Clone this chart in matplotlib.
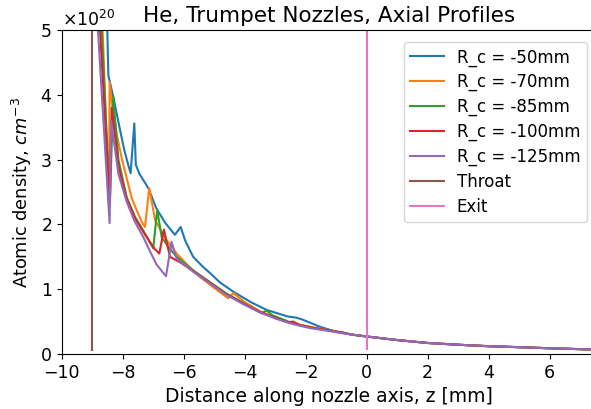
import numpy as np
import matplotlib
matplotlib.use('Agg')
import matplotlib.pyplot as plt
from matplotlib.ticker import ScalarFormatter

SCALE = 1e20

# shared tail where all profiles merge (z in mm, density in 1e20 cm^-3)
tail_z = [-0.5, 0.0, 1.0, 2.0, 3.0, 4.0, 5.0, 6.0, 7.5]
tail_n = [0.30, 0.27, 0.215, 0.17, 0.143, 0.12, 0.105, 0.088, 0.068]

z_50 = [-8.52, -8.47, -8.3, -8.14, -7.95, -7.82, -7.74, -7.62, -7.57, -7.45, -7.16, -6.9,
        -6.6, -6.29, -6.10, -5.95, -5.69, -5.4, -5.14, -4.8, -4.37, -3.8, -3.28, -2.6,
        -2.3, -2.1, -1.53, -0.98]
n_50 = [5.3, 4.3, 3.95, 3.58, 3.15, 2.92, 2.79, 3.56, 2.92, 2.78, 2.56, 2.25,
        2.02, 1.84, 1.96, 1.75, 1.50, 1.36, 1.25, 1.10, 0.96, 0.80, 0.68, 0.58,
        0.56, 0.53, 0.42, 0.34]

z_70 = [-8.68, -8.45, -8.43, -8.36, -8.2, -8.03, -7.85, -7.70, -7.38, -7.27, -7.13,
        -6.94, -6.6, -6.23, -5.85, -5.47, -5.0, -4.54, -4.37, -4.0, -3.5, -2.95, -2.41,
        -1.5, -0.98]
n_70 = [5.3, 2.3, 4.2, 3.9, 3.4, 3.02, 2.68, 2.40, 2.04, 1.96, 2.56,
        2.07, 1.78, 1.55, 1.36, 1.19, 1.02, 0.86, 0.94, 0.80, 0.66, 0.55, 0.47,
        0.39, 0.34]

z_85 = [-8.72, -8.42, -8.31, -8.14, -7.87, -7.6, -7.32, -7.0, -6.87, -6.72, -6.45,
        -6.23, -5.69, -5.14, -4.59, -4.05, -3.45, -3.28, -3.1, -2.41, -1.86, -1.31,
        -0.77]
n_85 = [5.3, 2.35, 3.97, 3.0, 2.42, 2.12, 1.9, 1.63, 2.22, 1.80, 1.62,
        1.50, 1.29, 1.11, 0.93, 0.79, 0.63, 0.67, 0.60, 0.47, 0.41, 0.37,
        0.33]

z_100 = [-8.78, -8.42, -8.36, -8.14, -7.87, -7.6, -7.32, -6.95, -6.8, -6.65, -6.45,
         -6.1, -5.69, -5.14, -4.59, -4.05, -3.5, -2.95, -2.6, -2.41, -2.2, -1.86,
         -1.31, -0.77]
n_100 = [5.3, 2.3, 3.8, 2.9, 2.40, 2.1, 1.88, 1.62, 1.55, 1.92, 1.50,
         1.41, 1.28, 1.10, 0.92, 0.78, 0.65, 0.55, 0.49, 0.50, 0.45, 0.41,
         0.37, 0.33]

z_125 = [-8.85, -8.43, -8.38, -8.14, -7.87, -7.6, -7.32, -7.1, -6.89, -6.58, -6.40,
         -6.23, -5.95, -5.69, -5.14, -4.59, -4.05, -3.5, -2.95, -2.41, -1.86, -1.31,
         -0.77]
n_125 = [5.3, 2.02, 3.6, 2.78, 2.35, 2.04, 1.80, 1.58, 1.38, 1.20, 1.73,
         1.47, 1.37, 1.27, 1.09, 0.91, 0.77, 0.64, 0.54, 0.46, 0.40, 0.36,
         0.32]

throat_z = [-9.0, -9.0]
throat_n = [0.06, 6.0]
exit_z = [0.0, 0.0]
exit_n = [0.08, 6.0]

profiles = [
    ('R_c = -50mm', z_50, n_50),
    ('R_c = -70mm', z_70, n_70),
    ('R_c = -85mm', z_85, n_85),
    ('R_c = -100mm', z_100, n_100),
    ('R_c = -125mm', z_125, n_125),
]

fig = plt.figure(figsize=(5.91, 4.09), dpi=100)
ax = fig.add_axes([0.1044, 0.1345, 0.9032, 0.792])

for label, z, n in profiles:
    ax.plot(z + tail_z, np.array(n + tail_n) * SCALE, label=label, lw=1.5)
ax.plot(throat_z, np.array(throat_n) * SCALE, label='Throat', lw=1.5)
ax.plot(exit_z, np.array(exit_n) * SCALE, label='Exit', lw=1.5)

ax.set_xlim(-10, 7.5)
ax.set_ylim(0, 5e20)
ax.set_xticks([-10, -8, -6, -4, -2, 0, 2, 4, 6])
fmt = ScalarFormatter(useMathText=True)
ax.yaxis.set_major_formatter(fmt)
ax.yaxis.get_offset_text().set_fontsize(12.5)
ax.tick_params(labelsize=12.5)

ax.set_xlabel('Distance along nozzle axis, z [mm]', fontsize=13.5)
ax.set_ylabel('Atomic density, $cm^{-3}$', fontsize=12.8)
ax.set_title('He, Trumpet Nozzles, Axial Profiles', fontsize=15.5)
ax.legend(loc='upper right', fontsize=12, labelspacing=0.4,
          bbox_to_anchor=(1.0, 0.99))

fig.savefig('out.png', dpi=100)
